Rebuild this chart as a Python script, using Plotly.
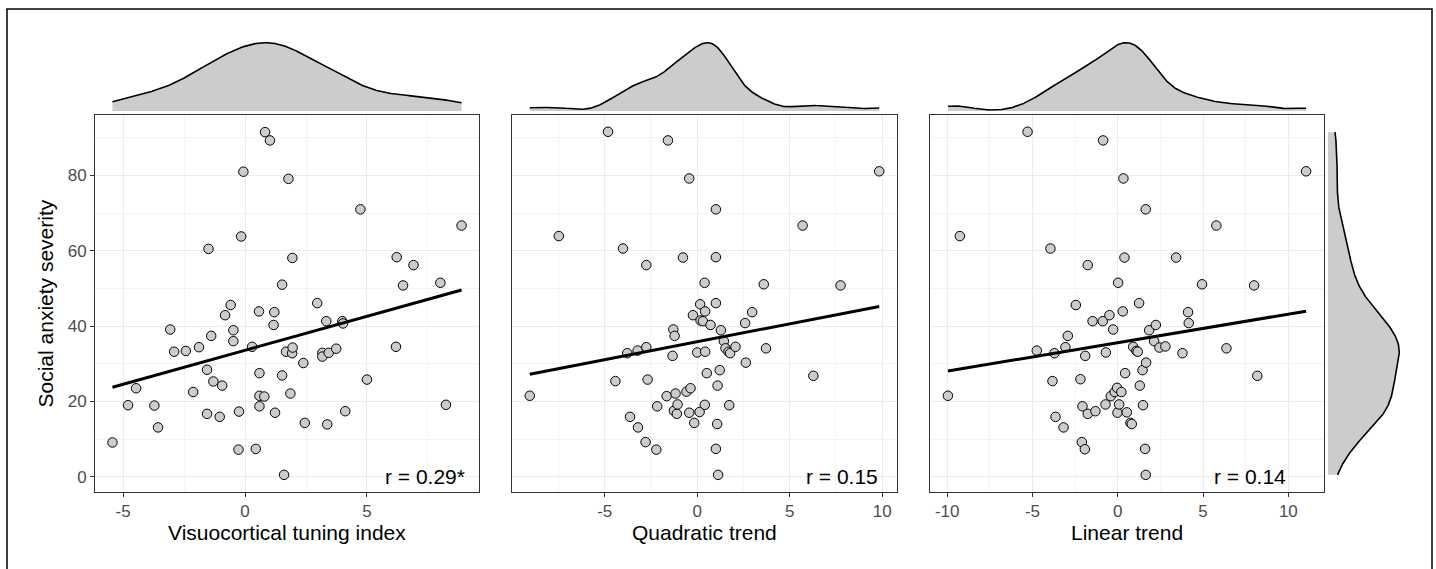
import numpy as np
import plotly.graph_objects as go

# ---------------- data ----------------
vti_x = [-5.44, -4.80, -4.47, -3.72, -3.57, -3.07, -2.91, -2.43, -2.13, -1.89,
         -1.56, -1.56, -1.50, -1.39, -1.30, -1.04, -0.94, -0.82, -0.59, -0.48,
         -0.48, -0.27, -0.25, -0.16, -0.07, 0.29, 0.44, 0.57, 0.59, 0.59,
         0.59, 0.79, 0.82, 1.02, 1.17, 1.20, 1.23, 1.52, 1.52, 1.60,
         1.68, 1.78, 1.86, 1.93, 1.95, 1.94, 2.39, 2.45, 2.96, 3.17,
         3.17, 3.33, 3.37, 3.43, 3.74, 3.99, 4.02, 4.11, 4.73, 5.00,
         6.19, 6.22, 6.48, 6.91, 8.01, 8.24, 8.88]
vti_y = [9.1, 19.0, 23.5, 18.9, 13.1, 39.1, 33.2, 33.4, 22.5, 34.4,
         16.7, 28.4, 60.5, 37.4, 25.3, 15.9, 24.2, 42.9, 45.6, 38.9,
         36.0, 7.2, 17.3, 63.8, 81.0, 34.5, 7.4, 43.9, 27.5, 21.5,
         18.7, 21.3, 91.5, 89.3, 40.3, 43.7, 17.0, 26.9, 51.0, 0.5,
         33.2, 79.1, 22.1, 32.8, 34.3, 58.1, 30.2, 14.3, 46.1, 32.9,
         31.9, 41.3, 13.9, 32.9, 34.0, 41.3, 40.7, 17.4, 71.0, 25.8,
         34.5, 58.3, 50.8, 56.2, 51.5, 19.1, 66.7]

quad_x = [-9.05, -7.48, -4.82, -4.42, -4.01, -3.78, -3.63, -3.22, -3.20, -2.79,
          -2.75, -2.75, -2.68, -2.21, -2.16, -1.65, -1.58, -1.33, -1.29, -1.22,
          -1.26, -1.17, -1.10, -1.06, -0.77, -0.58, -0.43, -0.43, -0.36, -0.23,
          -0.16, 0.00, 0.13, 0.16, 0.18, 0.31, 0.40, 0.41, 0.43, 0.43,
          0.52, 0.72, 1.01, 1.01, 1.01, 1.01, 1.08, 1.10, 1.13, 1.22,
          1.28, 1.44, 1.53, 1.69, 1.73, 1.78, 2.07, 2.59, 2.63, 2.97,
          3.60, 3.72, 5.70, 6.28, 7.75, 9.84]
quad_y = [21.5, 63.9, 91.6, 25.4, 60.6, 32.8, 15.9, 33.5, 13.1, 9.2,
          34.4, 56.2, 25.8, 7.2, 18.7, 21.4, 89.3, 32.1, 39.1, 37.4,
          17.5, 22.1, 16.7, 19.2, 58.2, 22.6, 79.2, 17.0, 23.5, 42.9,
          14.3, 33.0, 17.2, 45.8, 41.5, 41.3, 51.5, 19.1, 43.9, 33.2,
          27.5, 40.3, 46.1, 71.0, 58.3, 7.4, 14.0, 24.2, 0.5, 28.3,
          38.9, 36.0, 34.1, 33.2, 19.0, 32.8, 34.5, 40.8, 30.3, 43.7,
          51.1, 34.1, 66.7, 26.8, 50.8, 81.1]

lin_x = [-9.96, -9.26, -5.29, -4.75, -3.95, -3.83, -3.71, -3.65, -3.18, -3.07,
         -2.93, -2.46, -2.19, -2.11, -2.07, -1.93, -1.91, -1.76, -1.76, -1.48,
         -1.31, -0.88, -0.86, -0.72, -0.70, -0.49, -0.41, -0.27, -0.18, -0.04,
         -0.02, 0.02, 0.08, 0.21, 0.29, 0.33, 0.39, 0.43, 0.53, 0.74,
         0.82, 0.90, 1.09, 1.17, 1.25, 1.29, 1.45, 1.48, 1.60, 1.64,
         1.64, 1.66, 1.84, 2.13, 2.23, 2.44, 2.79, 3.42, 3.79, 4.12,
         4.16, 4.94, 5.78, 6.37, 7.99, 8.18, 11.04]
lin_y = [21.5, 63.9, 91.6, 33.5, 60.6, 25.4, 32.8, 15.9, 13.1, 34.4,
         37.4, 45.6, 25.9, 9.2, 18.7, 7.3, 32.1, 56.2, 16.7, 41.3,
         17.4, 41.3, 89.3, 19.2, 33.0, 42.9, 21.4, 39.1, 22.5, 23.6,
         17.0, 51.5, 19.2, 22.5, 43.9, 79.2, 58.2, 27.5, 17.1, 14.3,
         14.0, 34.5, 33.4, 33.2, 46.1, 24.2, 28.3, 19.0, 7.4, 71.0,
         0.5, 30.3, 38.9, 36.0, 40.3, 34.3, 34.6, 58.2, 32.8, 43.7,
         40.8, 51.1, 66.7, 34.1, 50.8, 26.8, 81.1]

x_titles = ["Visuocortical tuning index", "Quadratic trend", "Linear trend"]
r_labels = ["r = 0.29*", "r = 0.15", "r = 0.14"]
y_title = "Social anxiety severity"
x_tick_vals = [[-5, 0, 5], [-5, 0, 5, 10], [-10, -5, 0, 5, 10]]
y_tick_vals = [0, 20, 40, 60, 80]

# ---------------- helpers ----------------
W, H = 1436, 569
FONT = "Liberation Sans, Arial, sans-serif"
FILL = "rgb(204,204,204)"


def px_x(p):
    return p / W


def px_y(p):
    return 1 - p / H


def expand(v, f=0.05):
    lo, hi = min(v), max(v)
    d = (hi - lo) * f
    return [lo - d, hi + d]


def kde(v, n=512):
    v = np.asarray(v, float)
    sd = v.std(ddof=1)
    q75, q25 = np.percentile(v, [75, 25])
    bw = 0.9 * min(sd, (q75 - q25) / 1.34) * len(v) ** (-0.2)
    g = np.linspace(v.min(), v.max(), n)
    d = np.exp(-0.5 * ((g[:, None] - v[None, :]) / bw) ** 2).sum(1)
    d /= (len(v) * bw * np.sqrt(2 * np.pi))
    return g, d


# pixel geometry of panels
panel_x = [(95, 479), (512.3, 896.7), (930, 1324)]
panel_y = (115, 492)
top_y = (42, 111)
right_x = (1328, 1400)
r_pos = [9.1, 9.9, 10.0]

xs = [vti_x, quad_x, lin_x]
ys = [vti_y, quad_y, lin_y]

fig = go.Figure()
layout = dict(
    width=W, height=H, autosize=False,
    margin=dict(l=0, r=0, t=0, b=0),
    paper_bgcolor="white", plot_bgcolor="white",
    showlegend=False,
    font=dict(family=FONT),
)

yrange = expand(vti_y)
annotations = []

for i in range(3):
    n = i + 1
    xa = f"x{n}"
    ya = f"y{n}"
    xr = expand(xs[i])
    dom_x = [px_x(panel_x[i][0]), px_x(panel_x[i][1])]

    fig.add_trace(go.Scatter(
        x=xs[i], y=ys[i], mode="markers", xaxis=xa, yaxis=ya,
        marker=dict(size=9.5, color=FILL, line=dict(color="black", width=1)),
        hoverinfo="skip"))
    b, a = np.polyfit(xs[i], ys[i], 1)
    lx = np.array([min(xs[i]), max(xs[i])])
    fig.add_trace(go.Scatter(
        x=lx, y=a + b * lx, mode="lines", xaxis=xa, yaxis=ya,
        line=dict(color="black", width=3), hoverinfo="skip"))

    layout[f"xaxis{n}"] = dict(
        domain=dom_x, anchor=ya, range=xr,
        tickmode="array", tickvals=x_tick_vals[i],
        ticktext=[str(v) for v in x_tick_vals[i]],
        showgrid=True, gridcolor="#EBEBEB", gridwidth=1, zeroline=False,
        minor=dict(dtick=2.5, tick0=0, showgrid=True, gridcolor="#F4F4F4",
                   gridwidth=1, ticks=""),
        showline=True, linecolor="#333333", linewidth=1, mirror=True,
        ticks="outside", ticklen=4, tickcolor="#333333", tickwidth=1,
        tickfont=dict(size=17, color="#4D4D4D", family=FONT),
        fixedrange=True)
    ydict = dict(
        domain=[px_y(panel_y[1]), px_y(panel_y[0])], anchor=xa, range=yrange,
        tickmode="array", tickvals=y_tick_vals,
        ticktext=[str(v) for v in y_tick_vals],
        showgrid=True, gridcolor="#EBEBEB", gridwidth=1, zeroline=False,
        minor=dict(dtick=10, tick0=0, showgrid=True, gridcolor="#F4F4F4",
                   gridwidth=1, ticks=""),
        showline=True, linecolor="#333333", linewidth=1, mirror=True,
        tickfont=dict(size=17, color="#4D4D4D", family=FONT),
        fixedrange=True)
    if i == 0:
        ydict.update(ticks="outside", ticklen=4, tickcolor="#333333",
                     tickwidth=1, showticklabels=True)
    else:
        ydict.update(ticks="", showticklabels=False)
    layout[f"yaxis{n}"] = ydict

    # top marginal density
    tn = n + 3
    g, d = kde(xs[i])
    fig.add_trace(go.Scatter(
        x=g, y=d, mode="lines", fill="tozeroy", fillcolor=FILL,
        line=dict(color="black", width=1.6), xaxis=f"x{tn}", yaxis=f"y{tn}",
        hoverinfo="skip"))
    layout[f"xaxis{tn}"] = dict(domain=dom_x, anchor=f"y{tn}", range=xr,
                                visible=False, fixedrange=True)
    layout[f"yaxis{tn}"] = dict(domain=[px_y(top_y[1]), px_y(top_y[0])],
                                anchor=f"x{tn}", range=[0, d.max() * 1.01],
                                visible=False, fixedrange=True)

    annotations.append(dict(
        text=x_titles[i], xref="paper", yref="paper",
        x=(dom_x[0] + dom_x[1]) / 2, y=px_y(532), xanchor="center",
        yanchor="middle", showarrow=False,
        font=dict(size=21, color="black", family=FONT)))
    annotations.append(dict(
        text=r_labels[i], xref=xa, yref=ya, x=r_pos[i], y=0,
        xanchor="right", yanchor="middle", showarrow=False,
        font=dict(size=21, color="black", family=FONT)))

# right marginal density of y
g, d = kde(vti_y)
fig.add_trace(go.Scatter(
    x=d, y=g, mode="lines", fill="tozerox", fillcolor=FILL,
    line=dict(color="black", width=1.6), xaxis="x7", yaxis="y7",
    hoverinfo="skip"))
layout["xaxis7"] = dict(domain=[px_x(right_x[0]), px_x(right_x[1])],
                        anchor="y7", range=[0, d.max() * 1.01],
                        visible=False, fixedrange=True)
layout["yaxis7"] = dict(domain=[px_y(panel_y[1]), px_y(panel_y[0])],
                        anchor="x7", range=yrange, visible=False,
                        fixedrange=True)

annotations.append(dict(
    text=y_title, xref="paper", yref="paper", x=px_x(45),
    y=px_y((panel_y[0] + panel_y[1]) / 2), xanchor="center",
    yanchor="middle", textangle=-90, showarrow=False,
    font=dict(size=21, color="black", family=FONT)))

layout["annotations"] = annotations
layout["shapes"] = [dict(
    type="rect", xref="paper", yref="paper",
    x0=px_x(7), x1=px_x(1432), y0=-0.2, y1=px_y(9),
    line=dict(color="black", width=1.5), fillcolor="rgba(0,0,0,0)",
    layer="above")]

fig.update_layout(**layout)
fig.write_html(
    "out.html",
    config={"displayModeBar": False, "staticPlot": True},
    post_script="document.body.style.margin='0';"
                "document.body.style.overflow='hidden';")
